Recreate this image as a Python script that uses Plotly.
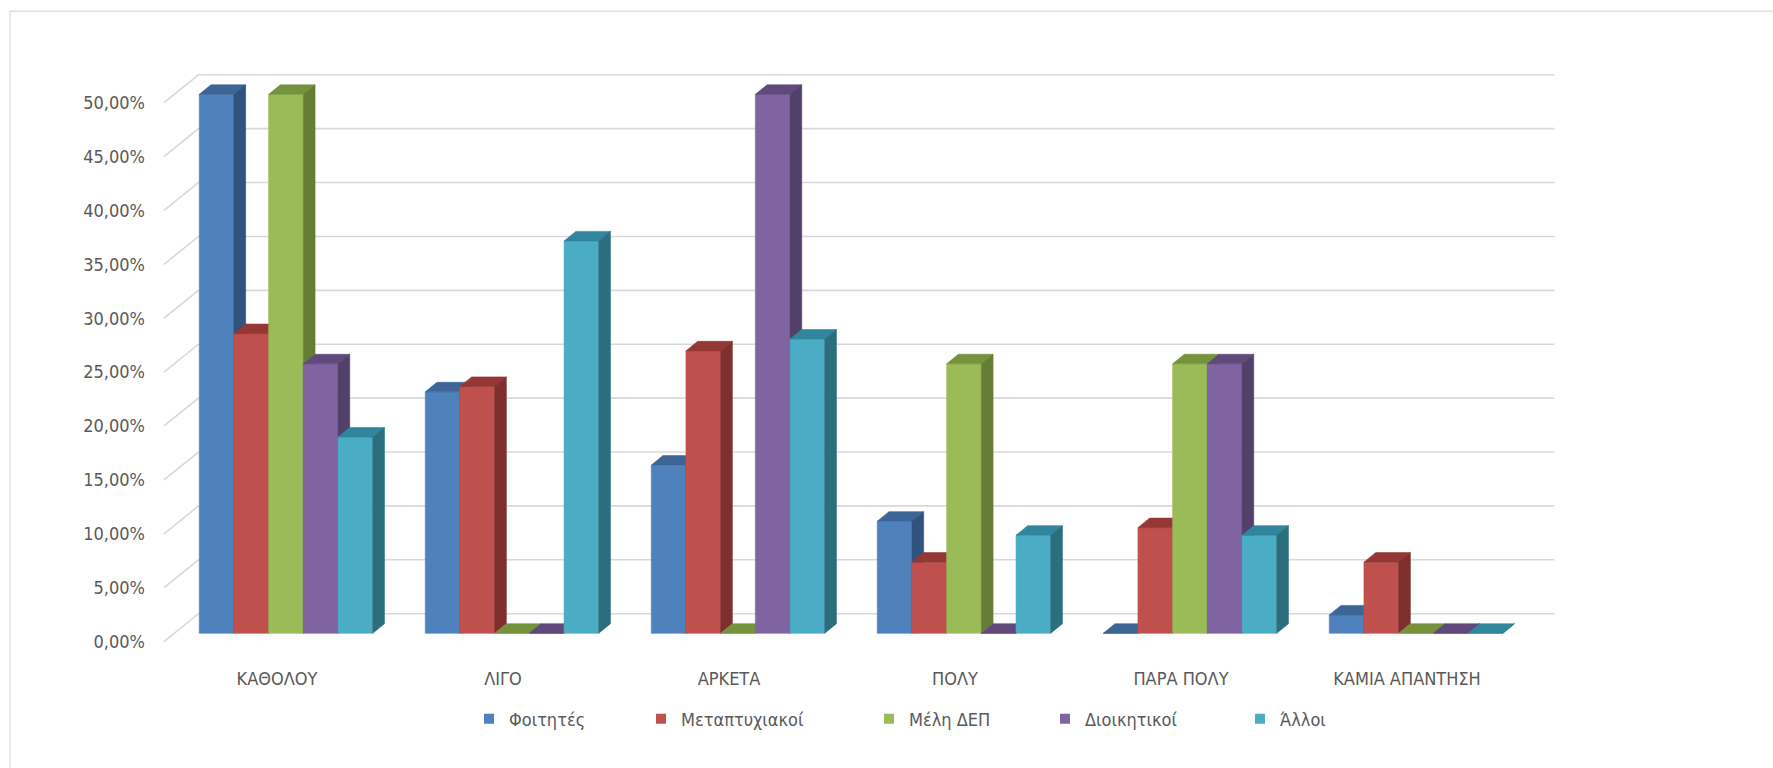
import plotly.graph_objects as go

# ---- data -----------------------------------------------------------------
categories = ["ΚΑΘΟΛΟΥ", "ΛΙΓΟ", "ΑΡΚΕΤΑ", "ΠΟΛΥ", "ΠΑΡΑ ΠΟΛΥ", "ΚΑΜΙΑ ΑΠΑΝΤΗΣΗ"]
series_names = ["Φοιτητές", "Μεταπτυχιακοί", "Μέλη ΔΕΠ", "Διοικητικοί", "Άλλοι"]

foitites = [50.0, 22.4, 15.6, 10.4, 0.0, 1.7]
metaptyxiakoi = [27.8, 22.9, 26.2, 6.6, 9.8, 6.6]
meli_dep = [50.0, 0.0, 0.0, 25.0, 25.0, 0.0]
dioikitikoi = [25.0, 0.0, 50.0, 0.0, 25.0, 0.0]
alloi = [18.2, 36.4, 27.3, 9.1, 9.1, 0.0]

y_ticks = [0, 5, 10, 15, 20, 25, 30, 35, 40, 45, 50]
y_tick_labels = ["0,00%", "5,00%", "10,00%", "15,00%", "20,00%", "25,00%",
                 "30,00%", "35,00%", "40,00%", "45,00%", "50,00%"]

series_values = [foitites, metaptyxiakoi, meli_dep, dioikitikoi, alloi]

# front / top / side shades of each column colour
palette = [
    ("#4f81bd", "#3d6595", "#31527c"),
    ("#c0504d", "#953735", "#7e2f2e"),
    ("#9bbb59", "#76923c", "#667d35"),
    ("#8064a2", "#604a7b", "#52406a"),
    ("#4bacc6", "#31859c", "#2d6e7e"),
]

# ---- page geometry ----------------------------------------------------------
W, H = 1773, 768
ML, MR, MT, MB = 150, 200, 36, 116
PX_X = 226.0      # pixels per category step
PX_Y = 10.84      # pixels per percentage point
X_LEFT_PX = 164.0 # floor front edge, x = -0.5
Y_ZERO_PX = 645.0 # floor front edge, y = 0


def x_of_px(px):
    return (px - X_LEFT_PX) / PX_X - 0.5


def y_of_px(py):
    return (Y_ZERO_PX - py) / PX_Y


x_range = [x_of_px(ML), x_of_px(W - MR)]
y_range = [y_of_px(H - MB), y_of_px(MT)]

# oblique 3-D offsets, expressed in axis units
BAR_W = 34.7 / PX_X
GROUP_LEFT = -2.5 * BAR_W
FRONT_DX, FRONT_DY = 9.0 / PX_X, 8.3 / PX_Y     # column front plane
DEPTH_DX, DEPTH_DY = 11.7 / PX_X, 9.6 / PX_Y    # column depth
WALL_DX, WALL_DY = 34.5 / PX_X, 28.0 / PX_Y     # back wall

font_family = "DejaVu Sans Condensed, DejaVu Sans, sans-serif"
text_color = "#595959"
grid_color = "#d9d9d9"

fig = go.Figure()

# back wall gridlines plus the diagonal lines on the side wall
gx, gy = [], []
for t in y_ticks:
    gx += [-0.5, -0.5 + WALL_DX, len(categories) - 0.5 + WALL_DX, None]
    gy += [t, t + WALL_DY, t + WALL_DY, None]
fig.add_trace(go.Scatter(x=gx, y=gy, mode="lines",
                         line=dict(color=grid_color, width=1.6),
                         hoverinfo="skip", showlegend=False))

# columns: painted series by series, left to right, so later columns hide
# the side faces of the ones next to them
for j, (name, vals) in enumerate(zip(series_names, series_values)):
    c_front, c_top, c_side = palette[j]
    fx, fy, tx, ty, sx, sy = [], [], [], [], [], []
    for i, v in enumerate(vals):
        xl = i + GROUP_LEFT + j * BAR_W + FRONT_DX
        xr = xl + BAR_W
        yb = FRONT_DY
        yt = FRONT_DY + v
        fx += [xl, xr, xr, xl, xl, None]
        fy += [yb, yb, yt, yt, yb, None]
        tx += [xl, xr, xr + DEPTH_DX, xl + DEPTH_DX, xl, None]
        ty += [yt, yt, yt + DEPTH_DY, yt + DEPTH_DY, yt, None]
        sx += [xr, xr + DEPTH_DX, xr + DEPTH_DX, xr, xr, None]
        sy += [yb, yb + DEPTH_DY, yt + DEPTH_DY, yt, yb, None]
    for px_, py_, col in ((fx, fy, c_front), (tx, ty, c_top), (sx, sy, c_side)):
        fig.add_trace(go.Scatter(x=px_, y=py_, mode="lines", fill="toself",
                                 fillcolor=col, line=dict(color=col, width=0.6),
                                 hoverinfo="skip", showlegend=False))

# legend entries, each in its own legend box placed along the bottom
legend_text_px = [507, 679, 907, 1083, 1278]
layout_legends = {}
for j, name in enumerate(series_names):
    key = "legend" if j == 0 else f"legend{j + 1}"
    fig.add_trace(go.Scatter(x=[None], y=[None], mode="markers", name=name,
                             marker=dict(symbol="square", size=10,
                                         color=palette[j][0]),
                             legend=key, showlegend=True))
    layout_legends[key] = dict(
        x=(legend_text_px[j] + 7 - 45) / W, y=1 - 719 / H,
        xref="container", yref="container",
        xanchor="left", yanchor="middle", orientation="h",
        bgcolor="rgba(0,0,0,0)", borderwidth=0, itemwidth=30,
        font=dict(family=font_family, size=18, color=text_color),
    )


def paper_x(px):
    return (px - ML) / (W - ML - MR)


def paper_y(py):
    return (H - MB - py) / (H - MT - MB)


fig.update_layout(
    width=W, height=H, autosize=False,
    margin=dict(l=ML, r=MR, t=MT, b=MB, pad=0),
    paper_bgcolor="white", plot_bgcolor="white",
    showlegend=True,
    xaxis=dict(range=x_range, tickvals=list(range(len(categories))),
               ticktext=categories, showgrid=False, zeroline=False,
               showline=False, ticks="", ticklabelstandoff=17,
               tickfont=dict(family=font_family, size=18, color=text_color),
               fixedrange=True),
    yaxis=dict(range=y_range, tickvals=y_ticks, ticktext=y_tick_labels,
               showgrid=False, zeroline=False, showline=False, ticks="",
               ticklabelstandoff=4,
               tickfont=dict(family=font_family, size=18, color=text_color),
               fixedrange=True),
    shapes=[dict(type="rect", xref="paper", yref="paper",
                 x0=paper_x(10), x1=paper_x(W + 20),
                 y0=paper_y(H + 20), y1=paper_y(11),
                 line=dict(color=grid_color, width=1.2),
                 fillcolor="rgba(0,0,0,0)", layer="below")],
    **layout_legends,
)

fig.write_html("out.html")
